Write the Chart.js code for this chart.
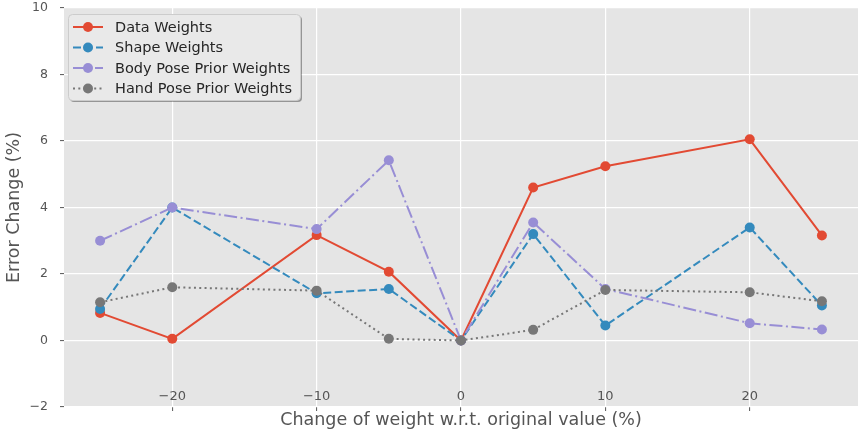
<!DOCTYPE html>
<html>
<head>
<meta charset="utf-8">
<script src="https://cdn.jsdelivr.net/npm/chart.js@4.4.0/dist/chart.umd.min.js"></script>
<style>
  html, body { margin: 0; padding: 0; background: #fff; }
  #wrap { width: 863px; height: 432px; }
</style>
</head>
<body>
<div id="wrap"><canvas id="errChart" width="863" height="432"></canvas></div>
<script>
// --- données ---
const xValues = [-25, -20, -10, -5, 0, 5, 10, 20, 25];
const dataWeights = [0.83, 0.05, 3.17, 2.07, 0, 4.6, 5.24, 6.05, 3.16];
const shapeWeights = [0.95, 4.0, 1.42, 1.55, 0, 3.2, 0.45, 3.4, 1.05];
const bodyPoseWeights = [3.0, 4.0, 3.35, 5.42, 0, 3.55, 1.55, 0.52, 0.33];
const handPoseWeights = [1.15, 1.6, 1.5, 0.05, 0, 0.32, 1.52, 1.45, 1.18];
const seriesLabels = ['Data Weights', 'Shape Weights', 'Body Pose Prior Weights', 'Hand Pose Prior Weights'];
const xTicks = [-20, -10, 0, 10, 20];
const yTicks = [-2, 0, 2, 4, 6, 8, 10];

const FONT = "'DejaVu Sans', sans-serif";
const fmt = v => (v < 0 ? '\u2212' + Math.abs(v) : String(v));
const toPoints = ys => ys.map((y, i) => ({ x: xValues[i], y: y }));

function series(label, ys, color, dash, order) {
    return {
        label: label,
        data: toPoints(ys),
        borderColor: color,
        backgroundColor: color,
        pointBackgroundColor: color,
        pointBorderColor: color,
        borderWidth: 2,
        borderDash: dash,
        pointRadius: 5,
        pointBorderWidth: 0,
        tension: 0,
        order: order
    };
}

// légende façon matplotlib (ombre + coins arrondis)
const mplLegend = {
    id: 'mplLegend',
    afterDraw(chart) {
        const ctx = chart.ctx;
        const x = 68, y = 14, w = 232, h = 86, r = 4;
        ctx.save();
        ctx.fillStyle = 'rgba(0,0,0,0.35)';
        ctx.beginPath();
        ctx.roundRect(x + 2, y + 2, w, h, r);
        ctx.fill();
        ctx.fillStyle = '#e9e9e9';
        ctx.strokeStyle = '#cccccc';
        ctx.lineWidth = 1;
        ctx.beginPath();
        ctx.roundRect(x + 0.5, y + 0.5, w, h, r);
        ctx.fill();
        ctx.stroke();
        chart.data.datasets.forEach((ds, i) => {
            const cy = y + 13 + i * 20.5;
            ctx.strokeStyle = ds.borderColor;
            ctx.lineWidth = 2;
            ctx.setLineDash(ds.borderDash || []);
            ctx.beginPath();
            ctx.moveTo(73, cy);
            ctx.lineTo(103, cy);
            ctx.stroke();
            ctx.setLineDash([]);
            ctx.fillStyle = ds.borderColor;
            ctx.beginPath();
            ctx.arc(88, cy, 5, 0, Math.PI * 2);
            ctx.fill();
            ctx.fillStyle = '#262626';
            ctx.font = '14.5px ' + FONT;
            ctx.textBaseline = 'middle';
            ctx.fillText(ds.label, 115, cy + 1);
        });
        ctx.restore();
    }
};

// fond gris de la zone de tracé
const plotBg = {
    id: 'plotBg',
    beforeDraw(chart) {
        const a = chart.chartArea;
        chart.ctx.save();
        chart.ctx.fillStyle = '#e5e5e5';
        chart.ctx.fillRect(a.left, a.top, a.right - a.left, a.bottom - a.top);
        chart.ctx.restore();
    }
};

new Chart(document.getElementById('errChart'), {
    type: 'line',
    data: {
        datasets: [
            series(seriesLabels[0], dataWeights, '#E24A33', [], 4),
            series(seriesLabels[1], shapeWeights, '#348ABD', [8, 3.5], 3),
            series(seriesLabels[2], bodyPoseWeights, '#988ED5', [13, 3.5, 2, 3.5], 2),
            series(seriesLabels[3], handPoseWeights, '#777777', [2, 3.3], 1)
        ]
    },
    options: {
        responsive: false,
        animation: false,
        layout: { padding: { top: 0, right: 3, bottom: 0, left: 0 } },
        plugins: {
            legend: { display: false },
            tooltip: { enabled: false }
        },
        scales: {
            x: {
                type: 'linear',
                min: -27.5,
                max: 27.5,
                afterBuildTicks: s => { s.ticks = xTicks.map(v => ({ value: v })); },
                afterFit: s => { s.height = 25; s.paddingLeft = 0; s.paddingRight = 0; },
                grid: { color: '#ffffff', lineWidth: 1.2, tickColor: '#555555', tickLength: 4, tickWidth: 1 },
                border: { display: false },
                ticks: {
                    color: '#555555',
                    font: { family: FONT, size: 13 },
                    mirror: true,
                    padding: 3,
                    autoSkip: false,
                    maxRotation: 0,
                    callback: v => fmt(v)
                },
                title: {
                    display: true,
                    text: 'Change of weight w.r.t. original value (%)',
                    color: '#555555',
                    font: { family: FONT, size: 17.5 },
                    padding: { top: 0, bottom: 1 }
                }
            },
            y: {
                type: 'linear',
                min: -2,
                max: 10,
                afterBuildTicks: s => { s.ticks = yTicks.map(v => ({ value: v })); },
                afterFit: s => { s.width = 64; s.paddingTop = 8; s.paddingBottom = 0; },
                grid: { color: '#ffffff', lineWidth: 1.2, tickColor: '#555555', tickLength: 4, tickWidth: 1 },
                border: { display: false },
                ticks: {
                    color: '#555555',
                    font: { family: FONT, size: 12.5 },
                    padding: 12,
                    autoSkip: false,
                    callback: v => fmt(v)
                },
                title: {
                    display: true,
                    text: 'Error Change (%)',
                    color: '#555555',
                    font: { family: FONT, size: 17.5 },
                    padding: { top: 4, bottom: 0 }
                }
            }
        }
    },
    plugins: [plotBg, mplLegend]
});
</script>
</body>
</html>
